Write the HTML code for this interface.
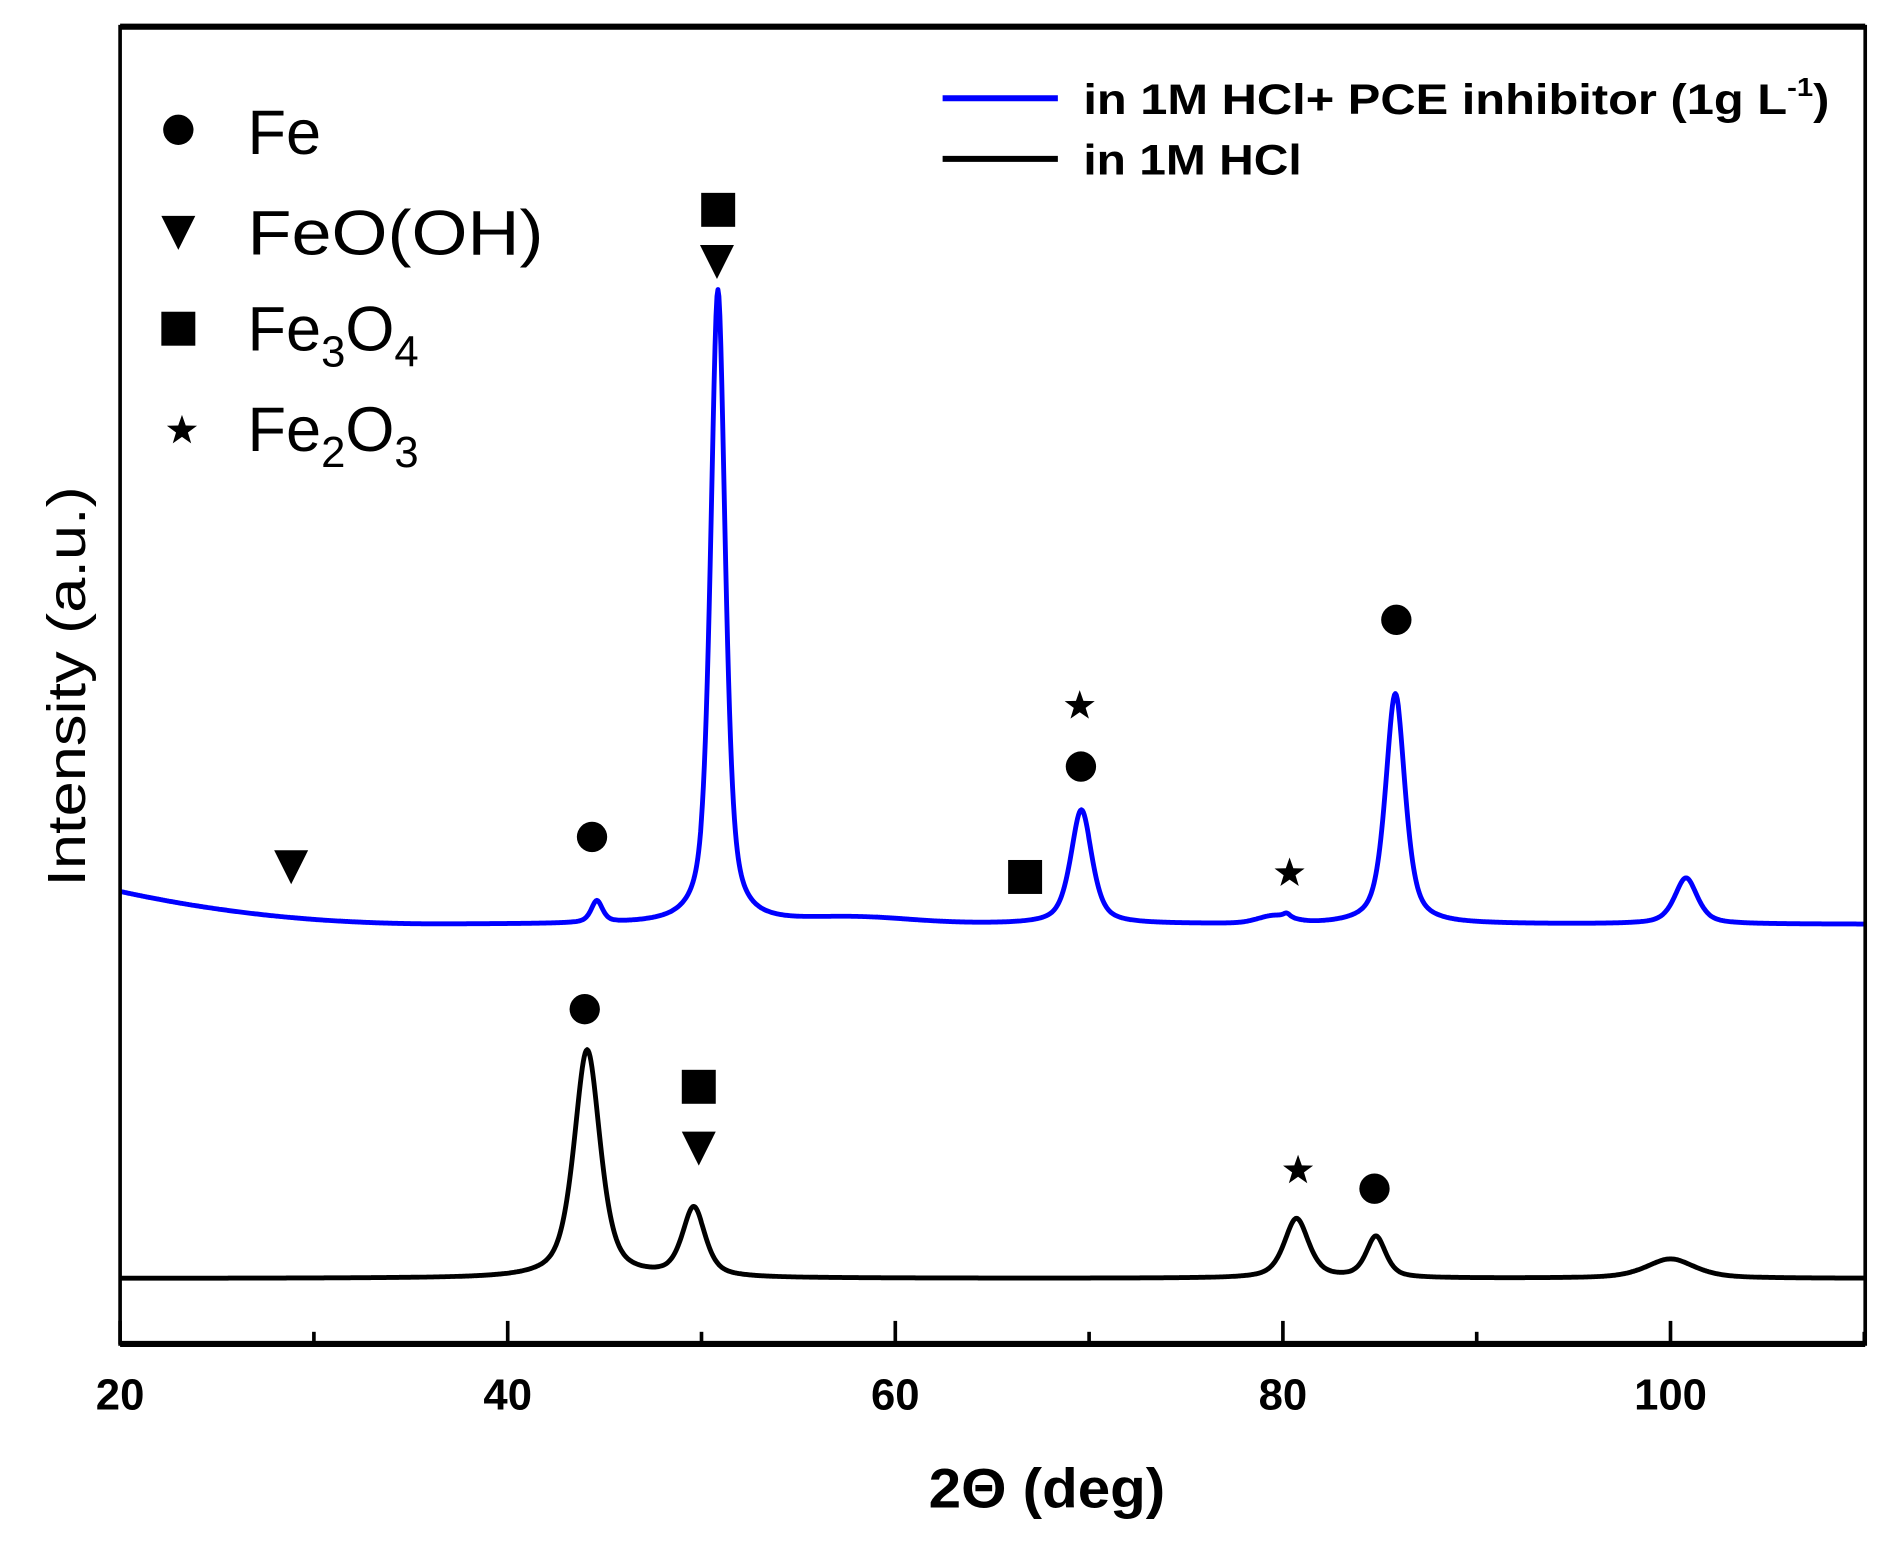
<!DOCTYPE html>
<html><head><meta charset="utf-8"><style>
html,body{margin:0;padding:0;background:#fff;}
svg{display:block;}
text{font-family:"Liberation Sans",Arial,sans-serif;fill:#000;}
</style></head><body>
<svg id="s" width="1901" height="1555" viewBox="0 0 1567 1282" preserveAspectRatio="none" xmlns="http://www.w3.org/2000/svg">
<rect x="0" y="0" width="1567" height="1282" fill="#fff"/>
<path id="blue" fill="none" stroke="#0000ff" stroke-width="4" stroke-linejoin="round"/>
<path id="black" fill="none" stroke="#000" stroke-width="4" stroke-linejoin="round"/>
<rect x="99" y="22" width="1438.5" height="1086" fill="none" stroke="#000" stroke-width="3"/>
<line x1="99" y1="22" x2="1537.5" y2="22" stroke="#000" stroke-width="5"/>
<line x1="99" y1="1108" x2="1537.5" y2="1108" stroke="#000" stroke-width="5"/>
<g id="ticks" stroke="#000" stroke-width="3"></g>
<g font-size="36" font-weight="bold" text-anchor="middle">
<text x="99" y="1162">20</text><text x="418.5" y="1162">40</text><text x="738" y="1162">60</text><text x="1057.5" y="1162">80</text><text x="1377" y="1162">100</text>
</g>
<text x="863" y="1243" font-size="46" font-weight="bold" text-anchor="middle" textLength="195" lengthAdjust="spacingAndGlyphs">2Θ (deg)</text>
<text transform="translate(70,566) rotate(-90)" font-size="44" text-anchor="middle" textLength="330" lengthAdjust="spacingAndGlyphs">Intensity (a.u.)</text>
<line x1="777" y1="81" x2="872" y2="81" stroke="#0000ff" stroke-width="5"/>
<line x1="777" y1="131" x2="872" y2="131" stroke="#000" stroke-width="5"/>
<text x="893" y="94" font-size="35" font-weight="bold" textLength="615" lengthAdjust="spacingAndGlyphs">in 1M HCl+ PCE inhibitor (1g L<tspan dy="-15" font-size="21">-1</tspan><tspan dy="15">)</tspan></text>
<text x="893" y="144" font-size="35" font-weight="bold" textLength="180" lengthAdjust="spacingAndGlyphs">in 1M HCl</text>
<g font-size="52">
<text x="204" y="127">Fe</text>
<text x="204" y="210" textLength="244" lengthAdjust="spacingAndGlyphs">FeO(OH)</text>
<text x="204" y="289">Fe<tspan dy="13" font-size="36">3</tspan><tspan dy="-13">O</tspan><tspan dy="13" font-size="36">4</tspan></text>
<text x="204" y="372">Fe<tspan dy="13" font-size="36">2</tspan><tspan dy="-13">O</tspan><tspan dy="13" font-size="36">3</tspan></text>
</g>
<g id="marks" fill="#000"></g>
</svg>
<script>
var X=function(t){return 99+(t-20)*15.975;};
function curve(base,peaks){
  var d="";
  for(var t=20;t<=110.001;t+=0.05){
    var y=base(t);
    for(var i=0;i<peaks.length;i++){var p=peaks[i];var u=(t-p[0])/p[2];y-=p[1]*(0.6/(1+u*u)+0.4*Math.exp(-0.693*u*u));}
    d+=(d?"L":"M")+X(t).toFixed(1)+","+y.toFixed(1);
  }
  return d;
}
var blueBase=function(t){
  var v = t<37 ? 760-27*Math.pow((37-t)/17,2.2) : 760;
  v-=5*Math.exp(-Math.pow((t-58)/4,2));
  v-=6*Math.exp(-Math.pow((t-79.6)/1.2,2));
  v+=2;
  return v;
};
document.getElementById("blue").setAttribute("d",curve(blueBase,[
 [44.6,18,0.35],[50.85,523,0.45],[69.6,94,0.65],[80.2,3,0.2],[85.8,190,0.6],[100.8,38,0.7]
]));
document.getElementById("black").setAttribute("d",curve(function(t){return 1054;},[
 [44.1,188,0.8],[49.6,57,0.7],[80.7,49,0.75],[84.8,34,0.6],[100,16,1.5]
]));
var tk="";
for(var t=20;t<=110;t+=10){var x=X(t);var L=((t%20)==0)?19:10;tk+='<line x1="'+x+'" y1="1108" x2="'+x+'" y2="'+(1108-L)+'"/>';}
document.getElementById("ticks").innerHTML=tk;
function circ(x,y){return '<circle cx="'+x+'" cy="'+y+'" r="12.5"/>';}
function sq(x,y){return '<rect x="'+(x-14)+'" y="'+(y-14)+'" width="28" height="28"/>';}
function tri(x,y){return '<polygon points="'+(x-14)+','+(y-13)+' '+(x+14)+','+(y-13)+' '+x+','+(y+15)+'"/>';}
function star(x,y){var s="",r1=13,r2=5.2;for(var i=0;i<10;i++){var r=i%2?r2:r1;var a=-Math.PI/2+i*Math.PI/5;s+=(x+r*Math.cos(a)).toFixed(1)+","+(y+r*Math.sin(a)).toFixed(1)+" ";}return '<polygon points="'+s+'"/>';}
var m="";
m+=circ(147,107)+tri(147,191)+sq(147,271)+star(150,355);
m+=sq(592,173)+tri(591,215)+circ(488,690)+tri(240,714)+sq(845,723)+star(890,582)+circ(891,632)+star(1063,720)+circ(1151,511);
m+=circ(482,832)+sq(576,896)+tri(576,946)+star(1070,965)+circ(1133,980);
document.getElementById("marks").innerHTML=m;
</script>
</body></html>
